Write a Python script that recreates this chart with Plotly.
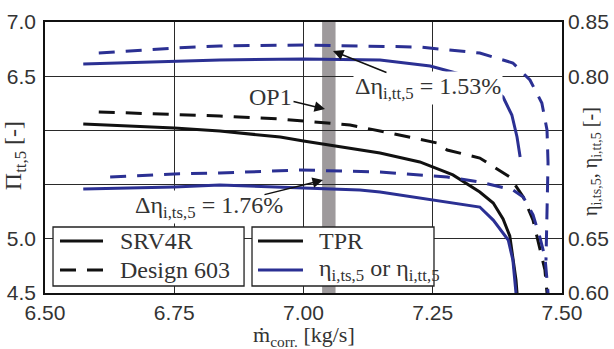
import plotly.graph_objects as go

# ---------------- data ----------------
# Pressure ratio Pi_tt,5 (left axis)
srv4r_pi_x = [6.574, 6.750, 6.838, 6.955, 7.000, 7.109, 7.148, 7.225, 7.289, 7.341,
              7.367, 7.386, 7.399, 7.405, 7.411, 7.413]
srv4r_pi_y = [6.059, 6.022, 5.994, 5.939, 5.902, 5.819, 5.792, 5.709, 5.589, 5.432,
              5.330, 5.183, 5.026, 4.823, 4.620, 4.500]

d603_pi_x = [6.604, 6.750, 6.838, 6.955, 7.090, 7.167, 7.258, 7.278, 7.341, 7.399,
             7.425, 7.444, 7.457, 7.467, 7.471]
d603_pi_y = [6.170, 6.151, 6.133, 6.105, 6.050, 5.976, 5.884, 5.819, 5.745, 5.570,
             5.386, 5.173, 4.924, 4.712, 4.500]

# Efficiencies (right axis)
srv4r_tt_x = [6.574, 6.750, 6.838, 7.000, 7.148, 7.245, 7.309, 7.361, 7.386, 7.403,
              7.413, 7.419]
srv4r_tt_y = [0.8113, 0.8140, 0.8149, 0.8159, 0.8149, 0.8094, 0.8011, 0.7910, 0.7808,
              0.7642, 0.7439, 0.7255]

d603_tt_x = [6.604, 6.750, 6.838, 7.000, 7.225, 7.341, 7.405, 7.438, 7.461, 7.471,
             7.473, 7.471, 7.469, 7.469]
d603_tt_y = [0.8214, 0.8260, 0.8279, 0.8288, 0.8269, 0.8214, 0.8122, 0.7965, 0.7753,
             0.7504, 0.7199, 0.6858, 0.6489, 0.6300]

srv4r_ts_x = [6.574, 6.750, 6.838, 6.955, 7.109, 7.148, 7.289, 7.341, 7.367, 7.396,
              7.405, 7.409, 7.411]
srv4r_ts_y = [0.6959, 0.6978, 0.6996, 0.6978, 0.6950, 0.6932, 0.6830, 0.6793, 0.6673,
              0.6489, 0.6304, 0.6055, 0.6000]

d603_ts_x = [6.626, 6.750, 6.838, 6.993, 7.148, 7.278, 7.341, 7.405, 7.425, 7.444,
             7.457, 7.467, 7.471, 7.473]
d603_ts_y = [0.7070, 0.7098, 0.7107, 0.7135, 0.7116, 0.7070, 0.7024, 0.6950, 0.6886,
             0.6720, 0.6517, 0.6332, 0.6120, 0.6000]

op1_range = [7.036, 7.062]

x_tickvals = [6.50, 6.75, 7.00, 7.25, 7.50]
x_ticktext = ["6.50", "6.75", "7.00", "7.25", "7.50"]
y_tickvals = [4.5, 5.0, 5.5, 6.0, 6.5, 7.0]
y_ticktext = ["4.5", "5.0", "", "", "6.5", "7.0"]
y2_tickvals = [0.60, 0.65, 0.70, 0.75, 0.80, 0.85]
y2_ticktext = ["0.60", "0.65", "", "", "0.80", "0.85"]

legend1_labels = ["SRV4R", "Design 603"]
legend2_labels = ["TPR", "η<sub>i,ts,5</sub> or η<sub>i,tt,5</sub>"]

# ---------------- styling ----------------
BLUE = "#2b3093"
BLACK = "#111111"
DASH = "16px,11px"
SERIF = "'Liberation Serif', 'Times New Roman', Times, serif"
SANS = "'Liberation Sans', Arial, Helvetica, sans-serif"
TXT = "#333333"

fig = go.Figure()

fig.add_trace(go.Scatter(x=srv4r_tt_x, y=srv4r_tt_y, yaxis="y2", mode="lines",
                         line=dict(color=BLUE, width=3), showlegend=False))
fig.add_trace(go.Scatter(x=d603_tt_x, y=d603_tt_y, yaxis="y2", mode="lines",
                         line=dict(color=BLUE, width=3, dash=DASH), showlegend=False))
fig.add_trace(go.Scatter(x=srv4r_ts_x, y=srv4r_ts_y, yaxis="y2", mode="lines",
                         line=dict(color=BLUE, width=3), showlegend=False))
fig.add_trace(go.Scatter(x=d603_ts_x, y=d603_ts_y, yaxis="y2", mode="lines",
                         line=dict(color=BLUE, width=3, dash=DASH), showlegend=False))
fig.add_trace(go.Scatter(x=srv4r_pi_x, y=srv4r_pi_y, mode="lines",
                         line=dict(color=BLACK, width=3), showlegend=False))
fig.add_trace(go.Scatter(x=d603_pi_x, y=d603_pi_y, mode="lines",
                         line=dict(color=BLACK, width=3, dash=DASH), showlegend=False))

# OP1 bar
fig.add_shape(type="rect", xref="x", yref="paper", x0=op1_range[0], x1=op1_range[1],
              y0=0, y1=1, fillcolor="#9e9a9c", line=dict(width=0), layer="between")

# legend boxes
for x0, x1 in [(0.0155, 0.385), (0.4004, 0.7524)]:
    fig.add_shape(type="rect", xref="paper", yref="paper", x0=x0, x1=x1,
                  y0=0.0258, y1=0.2435, fillcolor="white",
                  line=dict(color="#222222", width=1.3), layer="above")

leg_y = [0.1919, 0.0849]
# legend 1 samples
fig.add_shape(type="line", xref="paper", yref="paper", x0=0.029, x1=0.1122,
              y0=leg_y[0], y1=leg_y[0], line=dict(color=BLACK, width=3), layer="above")
fig.add_shape(type="line", xref="paper", yref="paper", x0=0.029, x1=0.1122,
              y0=leg_y[1], y1=leg_y[1], line=dict(color=BLACK, width=3, dash="16px,11px"),
              layer="above")
# legend 2 samples
fig.add_shape(type="line", xref="paper", yref="paper", x0=0.412, x1=0.499,
              y0=leg_y[0], y1=leg_y[0], line=dict(color=BLACK, width=3), layer="above")
fig.add_shape(type="line", xref="paper", yref="paper", x0=0.412, x1=0.499,
              y0=leg_y[1], y1=leg_y[1], line=dict(color=BLUE, width=3), layer="above")

annos = []
for lab, yy in zip(legend1_labels, leg_y):
    annos.append(dict(text=lab, xref="paper", yref="paper", x=0.1412, y=yy,
                      xanchor="left", yanchor="middle", showarrow=False,
                      font=dict(family=SERIF, size=24, color=TXT)))
for lab, yy in zip(legend2_labels, leg_y):
    annos.append(dict(text=lab, xref="paper", yref="paper", x=0.526, y=yy,
                      xanchor="left", yanchor="middle", showarrow=False,
                      font=dict(family=SERIF, size=24, color=TXT)))

# text annotations
annos.append(dict(text="Δη<sub>i,tt,5</sub> = 1.53%", xref="x", yref="y", x=7.096, y=6.391,
                  xanchor="left", yanchor="middle", showarrow=False, bgcolor="white",
                  borderpad=1, font=dict(family=SERIF, size=24, color=TXT)))
annos.append(dict(text="OP1", xref="x", yref="y", x=6.891, y=6.308,
                  xanchor="left", yanchor="middle", showarrow=False,
                  font=dict(family=SERIF, size=24, color=TXT)))
annos.append(dict(text="Δη<sub>i,ts,5</sub> = 1.76%", xref="x", yref="y", x=6.670, y=5.293,
                  xanchor="left", yanchor="middle", showarrow=False, bgcolor="white",
                  borderpad=1, font=dict(family=SERIF, size=24, color=TXT)))

# arrows
for hx, hy, ax, ay in [(7.057, 6.732, 55, 22), (7.0416, 6.197, -33, -8),
                       (7.0377, 5.5425, -60, 15)]:
    annos.append(dict(text="", xref="x", yref="y", x=hx, y=hy, ax=ax, ay=ay,
                      showarrow=True, arrowhead=2, arrowsize=1.4, arrowwidth=1.5,
                      arrowcolor="#111111"))

# axis titles
annos.append(dict(text="Π<sub>tt,5</sub> [-]", xref="paper", yref="paper", x=-0.058, y=0.505,
                  xanchor="center", yanchor="middle", textangle=-90, showarrow=False,
                  font=dict(family=SERIF, size=24, color=TXT)))
annos.append(dict(text="η<sub>i,ts,5</sub>, η<sub>i,tt,5</sub> [-]", xref="paper", yref="paper",
                  x=1.057, y=0.485, xanchor="center", yanchor="middle", textangle=-90,
                  showarrow=False, font=dict(family=SERIF, size=20, color=TXT)))
annos.append(dict(text="ṁ<sub>corr.</sub> [kg/s]", xref="paper", yref="paper", x=0.5, y=-0.158,
                  xanchor="center", yanchor="middle", showarrow=False,
                  font=dict(family=SERIF, size=22, color=TXT)))

fig.update_layout(
    width=614, height=349,
    margin=dict(l=45, r=52, t=22, b=56, autoexpand=False),
    paper_bgcolor="white", plot_bgcolor="white",
    showlegend=False,
    annotations=annos,
    xaxis=dict(range=[6.5, 7.5], tickvals=x_tickvals, ticktext=x_ticktext,
               showgrid=True, gridcolor="#2a2a2a", gridwidth=1.2, zeroline=False,
               showline=True, mirror=True, linecolor="#111111", linewidth=1.5,
               ticks="", ticklabelstandoff=0, automargin=False,
               tickfont=dict(family=SANS, size=21, color=TXT)),
    yaxis=dict(range=[4.5, 7.0], tickvals=y_tickvals, ticktext=y_ticktext,
               showgrid=True, gridcolor="#2a2a2a", gridwidth=1.2, zeroline=False,
               showline=True, mirror=True, linecolor="#111111", linewidth=1.5,
               ticks="", ticklabelstandoff=3, automargin=False,
               tickfont=dict(family=SANS, size=21, color=TXT)),
    yaxis2=dict(range=[0.60, 0.85], tickvals=y2_tickvals, ticktext=y2_ticktext,
                overlaying="y", side="right", showgrid=False, zeroline=False,
                showline=True, linecolor="#111111", linewidth=1.5,
                ticks="", ticklabelstandoff=0, automargin=False,
                tickfont=dict(family=SANS, size=21, color=TXT)),
)

fig.write_html("out.html", config={"displayModeBar": False},
               post_script="document.body.style.margin='0';document.body.style.padding='0';")
